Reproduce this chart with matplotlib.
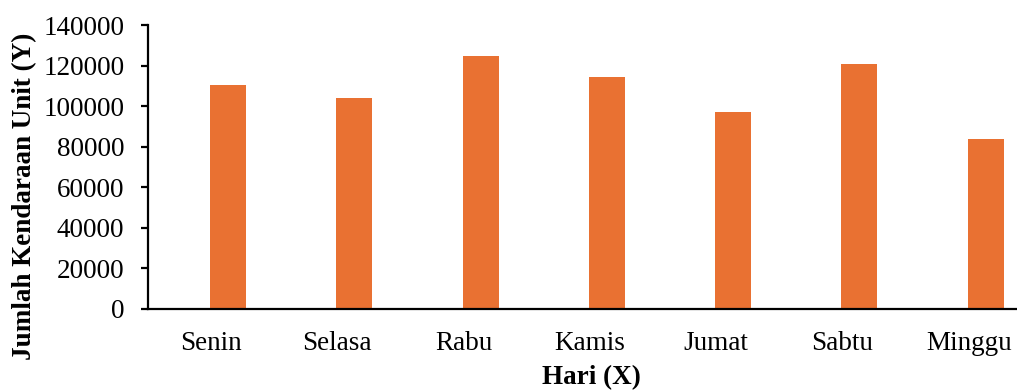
import matplotlib
matplotlib.use("Agg")
import matplotlib.pyplot as plt
import numpy as np

hari = ["Senin", "Selasa", "Rabu", "Kamis", "Jumat", "Sabtu", "Minggu"]
jumlah = [110400, 104000, 124700, 114200, 97100, 120800, 83800]
yticks = [0, 20000, 40000, 60000, 80000, 100000, 120000, 140000]

plt.rcParams["font.family"] = ["Liberation Serif", "DejaVu Serif"]

W, H = 1017, 391
fig = plt.figure(figsize=(W / 100, H / 100), dpi=100)
# axes box in pixels: left 148, right 1017, bottom 309, top 25
ax = fig.add_axes([148 / W, (H - 309) / H, (1017 - 148) / W, (309 - 25) / H])

x = np.arange(len(hari))
# bars sit right of the category centre (second slot of a two-series group)
ax.bar(x + 0.135, jumlah, width=0.285, color="#E97132", zorder=2)

ax.set_ylim(0, 140000)
ax.set_yticks(yticks)
ax.set_yticklabels([str(v) for v in yticks])
ax.set_xticks(x)
ax.set_xticklabels(hari)
step = 126.25  # px per category
ax.set_xlim(-0.5, -0.5 + (1017 - 148) / step)

for s in ("top", "right"):
    ax.spines[s].set_visible(False)
for s in ("left", "bottom"):
    ax.spines[s].set_linewidth(1.6)
    ax.spines[s].set_color("black")

ax.tick_params(axis="y", direction="out", length=5, width=1.6, labelsize=19.5, pad=12)
ax.tick_params(axis="x", length=0, labelsize=19.5, pad=16)

fig.text(591 / W, 1 - 378 / H, "Hari (X)", ha="center", va="center",
         fontsize=19.5, fontweight="bold")
fig.text(25 / W, 1 - 196 / H, "Jumlah Kendaraan Unit (Y)", ha="center",
         va="center", rotation=90, fontsize=19.5, fontweight="bold")

fig.savefig("out.png", dpi=100)
